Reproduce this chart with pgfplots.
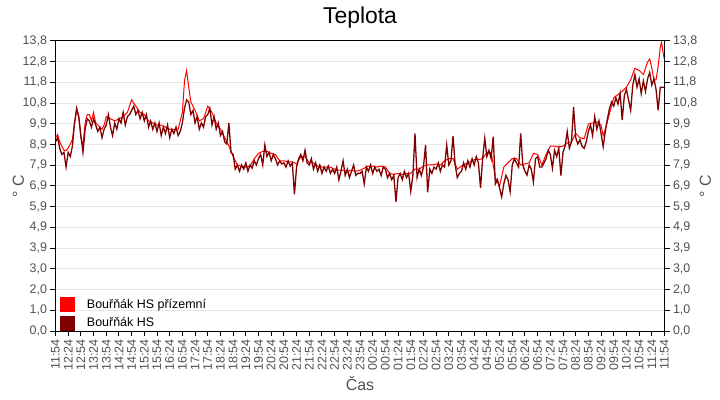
\documentclass[border=0pt]{standalone}
\usepackage{fontspec}
\setmainfont{Liberation Sans}
\usepackage{pgfplots}
\pgfplotsset{compat=1.18}
\definecolor{cred}{HTML}{FF0000}
\definecolor{cdark}{HTML}{800000}
\definecolor{tgray}{HTML}{505050}
\definecolor{ggray}{HTML}{E8E8E8}
\pgfplotsset{
  common/.style={
    scale only axis, width=609bp, height=290bp,
    xmin=0, xmax=1440, ymin=0, ymax=13.8,
    ytick={0,0.985714,1.971429,2.957143,3.942857,4.928571,5.914286,6.9,7.885714,8.871429,9.857143,10.842857,11.828571,12.814286,13.8},
    yticklabels={{0,0},{1,0},{2,0},{3,0},{3,9},{4,9},{5,9},{6,9},{7,9},{8,9},{9,9},{10,8},{11,8},{12,8},{13,8}},
    tick align=outside,
    major tick length=5bp,
    major tick style={black, line width=1bp},
    axis line style={black, line width=1bp},
    yticklabel style={font=\fontsize{12.5}{14}\selectfont, text=tgray},
    ylabel={° C},
    ylabel style={font=\fontsize{16}{18}\selectfont, text=tgray},
  }
}
\begin{document}
\begin{tikzpicture}
\useasboundingbox (-55.5bp,-69bp) rectangle (664.5bp,331bp);
\begin{axis}[
  common,
  xtick pos=bottom, ytick pos=left,
  ymajorgrids, major grid style={ggray, line width=1bp},
  xtick={0,30,...,1440},
  xticklabels={11:54,12:24,12:54,13:24,13:54,14:24,14:54,15:24,15:54,16:24,16:54,17:24,17:54,18:24,18:54,19:24,19:54,20:24,20:54,21:24,21:54,22:24,22:54,23:24,23:54,00:24,00:54,01:24,01:54,02:24,02:54,03:24,03:54,04:24,04:54,05:24,05:54,06:24,06:54,07:24,07:54,08:24,08:54,09:24,09:54,10:24,10:54,11:24,11:54},
  xticklabel style={rotate=90, anchor=east, font=\fontsize{12.5}{14}\selectfont, text=tgray},
  xlabel={Čas},
  xlabel style={font=\fontsize{16}{18}\selectfont, text=tgray, at={(axis description cs:0.5,0)}, anchor=base, yshift=-59bp},
  ylabel style={at={(axis description cs:-0.0608,0.5)}, anchor=center},
  title={Teplota},
  title style={font=\fontsize{23}{26}\selectfont, at={(axis description cs:0.5,1)}, anchor=base, yshift=11.7bp},
  legend style={at={(axis description cs:0,0)}, anchor=south west, xshift=3bp, yshift=-1bp, draw=none, fill=none,
    font=\fontsize{12.5}{14}\selectfont, inner sep=1bp, row sep=3.5bp, nodes={inner sep=2bp},
    /tikz/every odd column/.append style={column sep=10bp}},
  legend cell align=left,
]
\addplot[cred, line width=1bp, legend image code/.code={\fill[cred] (0bp,-7bp) rectangle (14bp,7bp);}] coordinates {
(0,9.2) (5,9.35) (10,9.0) (15,8.8) (20,8.6) (25,8.6) (30,8.7) (35,8.9) (40,9.1) (45,9.9) (50,10.5) (55,10.2)
(60,9.2) (65,8.8) (70,9.9) (75,10.3) (80,10.3) (85,10.0) (90,10.4) (95,9.9) (100,9.8) (105,9.7) (110,9.6) (115,9.8)
(120,10.2) (130,10.1) (140,10.0) (150,10.1) (160,10.2) (170,10.4) (180,11.0) (190,10.7) (200,10.4) (210,10.3) (220,10.0) (230,9.9)
(240,9.8) (250,9.8) (260,9.7) (270,9.6) (280,9.6) (290,9.6) (300,10.4) (305,11.9) (310,12.4) (315,11.6) (320,10.9) (330,10.5)
(340,10.0) (350,10.1) (360,10.7) (370,10.4) (380,9.9) (390,9.6) (400,9.2) (410,8.8) (420,8.3) (430,7.9) (440,7.85) (450,7.8)
(460,7.85) (470,8.2) (480,8.45) (490,8.55) (500,8.55) (510,8.45) (520,8.4) (530,8.1) (540,8.1) (550,8.05) (560,8.05) (570,7.95)
(580,8.3) (590,8.3) (600,8.0) (610,8.0) (620,7.85) (630,7.8) (640,7.8) (650,7.8) (660,7.7) (670,7.65) (680,7.65) (690,7.6)
(700,7.65) (710,7.6) (720,7.65) (730,7.75) (740,7.85) (750,7.85) (760,7.8) (770,7.85) (780,7.8) (790,7.5) (800,7.45) (810,7.5)
(820,7.45) (830,7.5) (840,7.5) (850,7.7) (860,7.7) (870,7.85) (880,7.9) (890,7.9) (900,7.95) (910,7.9) (920,8.1) (930,8.2)
(940,8.2) (950,7.7) (960,7.85) (970,7.95) (980,8.05) (990,8.15) (1000,8.15) (1010,8.2) (1020,8.5) (1030,8.5) (1040,7.3) (1050,6.9)
(1060,7.8) (1070,8.0) (1080,8.2) (1090,8.2) (1100,7.9) (1110,7.95) (1120,8.0) (1130,8.45) (1140,8.4) (1150,7.9) (1160,8.4) (1170,8.8)
(1180,8.8) (1190,8.75) (1200,8.8) (1210,8.95) (1220,9.0) (1230,9.4) (1240,9.2) (1250,9.15) (1260,9.85) (1270,9.9) (1280,9.95) (1290,9.8)
(1295,9.3) (1300,9.6) (1310,10.35) (1320,11.1) (1330,11.25) (1340,11.4) (1350,11.6) (1360,11.95) (1370,12.5) (1380,12.4) (1390,12.2) (1400,12.8)
(1405,12.95) (1410,12.5) (1415,11.95) (1420,11.95) (1425,12.6) (1430,13.5) (1433,13.75) (1437,13.2) (1440,12.9)
};
\addlegendentry{Bouřňák HS přízemní}
\addplot[cdark, line width=1.3bp, legend image code/.code={\fill[cdark] (0bp,-7bp) rectangle (14bp,7bp);}] coordinates {
(0,9.0) (5,9.2) (10,8.7) (15,8.4) (20,8.5) (25,7.8) (30,8.5) (35,8.3) (40,8.8) (45,9.9) (50,10.6) (55,10.2)
(60,9.3) (65,8.5) (70,9.6) (75,10.1) (80,10.0) (85,9.7) (90,10.1) (95,9.8) (100,9.5) (105,9.7) (110,9.2) (115,9.6)
(120,9.8) (125,10.3) (130,9.7) (135,9.3) (140,9.9) (145,9.6) (150,10.1) (155,9.9) (160,10.4) (165,9.8) (170,10.2) (175,10.3)
(180,10.5) (185,10.7) (190,10.3) (195,10.5) (200,10.1) (205,10.4) (210,10.0) (215,10.3) (220,9.7) (225,10.0) (230,9.6) (235,9.9)
(240,9.5) (245,9.9) (250,9.3) (255,9.7) (260,9.4) (265,9.8) (270,9.2) (275,9.6) (280,9.4) (285,9.7) (290,9.3) (295,9.5)
(300,9.9) (305,10.6) (310,11.0) (315,10.9) (320,10.3) (325,10.5) (330,9.9) (335,10.2) (340,9.6) (345,9.9) (350,9.7) (355,10.2)
(360,10.3) (365,10.6) (370,9.8) (375,10.2) (380,9.6) (385,9.9) (390,9.3) (395,9.5) (400,9.0) (405,8.9) (410,9.9) (415,8.5)
(420,8.4) (425,7.7) (430,7.9) (435,7.6) (440,7.9) (445,7.7) (450,8.0) (455,7.6) (460,7.9) (465,7.75) (470,8.1) (475,7.9)
(480,8.2) (485,8.4) (490,7.9) (495,8.85) (500,8.3) (505,8.5) (510,8.1) (515,8.4) (520,8.2) (525,7.9) (530,8.1) (535,7.95)
(540,8.0) (545,7.8) (550,8.1) (555,7.85) (560,8.0) (565,6.5) (570,7.8) (575,8.2) (580,8.4) (585,8.1) (590,8.6) (595,8.0)
(600,7.9) (605,8.2) (610,7.7) (615,8.0) (620,7.6) (625,7.9) (630,7.5) (635,7.8) (640,7.6) (645,7.85) (650,7.5) (655,7.7)
(660,7.5) (665,7.8) (670,7.2) (675,7.6) (680,8.1) (685,7.4) (690,7.7) (695,7.3) (700,7.6) (705,7.9) (710,7.4) (715,7.5)
(720,7.5) (725,7.6) (730,7.0) (735,7.8) (740,7.6) (745,7.9) (750,7.5) (755,7.8) (760,7.6) (765,7.7) (770,7.4) (775,7.8)
(780,7.7) (785,7.3) (790,7.5) (795,7.2) (800,7.4) (805,6.15) (810,7.3) (815,7.5) (820,7.2) (825,7.6) (830,7.3) (835,7.5)
(840,6.65) (845,7.4) (850,9.4) (855,7.3) (860,7.7) (865,7.4) (870,7.8) (875,8.85) (880,6.6) (885,7.7) (890,7.5) (895,7.8)
(900,7.7) (905,8.0) (910,7.6) (915,7.9) (920,7.8) (925,8.85) (930,7.9) (935,8.1) (940,9.28) (945,7.9) (950,7.3) (955,7.5)
(960,7.6) (965,8.0) (970,7.7) (975,8.1) (980,7.8) (985,8.2) (990,7.9) (995,8.3) (1000,8.0) (1005,6.8) (1010,8.2) (1015,9.17)
(1020,8.3) (1025,8.6) (1030,8.2) (1035,9.25) (1040,7.0) (1045,7.2) (1050,6.8) (1055,6.38) (1060,7.0) (1065,7.4) (1070,7.2) (1075,6.63)
(1080,7.9) (1085,8.2) (1090,8.0) (1095,7.8) (1100,9.4) (1105,7.9) (1110,7.6) (1115,7.42) (1120,7.9) (1125,7.7) (1130,7.1) (1135,8.2)
(1140,8.3) (1145,7.8) (1150,7.8) (1155,8.0) (1160,8.2) (1165,8.6) (1170,8.4) (1175,7.74) (1180,8.6) (1185,8.3) (1190,8.7) (1195,7.4)
(1200,8.5) (1205,8.8) (1210,9.49) (1215,8.7) (1220,9.0) (1225,10.65) (1230,9.2) (1235,8.9) (1240,9.1) (1245,8.8) (1250,8.69) (1255,9.0)
(1260,9.5) (1265,9.8) (1270,9.3) (1275,10.2) (1280,9.6) (1285,10.0) (1290,9.4) (1295,8.77) (1300,9.5) (1305,10.1) (1310,10.6) (1315,10.9)
(1320,10.7) (1325,11.1) (1330,10.8) (1335,11.3) (1340,10.04) (1345,11.2) (1350,11.5) (1355,11.0) (1360,10.5) (1365,11.7) (1370,12.2) (1375,11.6)
(1380,12.0) (1385,11.3) (1390,11.9) (1395,11.4) (1400,12.0) (1405,12.3) (1410,11.7) (1415,12.0) (1420,11.5) (1425,10.5) (1430,11.6) (1435,11.6) (1440,11.6)
};
\addlegendentry{Bouřňák HS}
\end{axis}
\begin{axis}[
  common,
  axis x line=none, axis y line*=right,
  yticklabel style={anchor=west},
  ylabel style={at={(axis description cs:1.0673,0.5)}, anchor=center},
]
\end{axis}
\end{tikzpicture}
\end{document}
